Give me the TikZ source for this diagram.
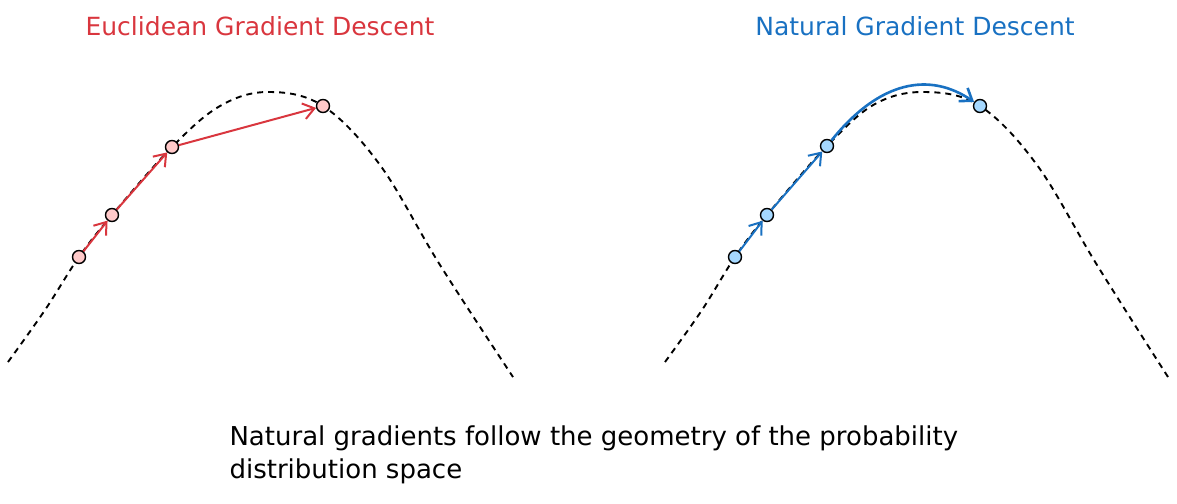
\documentclass[tikz,border=0pt]{standalone}
\usepackage{fontspec}
\setmainfont{DejaVu Sans}
\usetikzlibrary{arrows.meta}
\definecolor{eucred}{HTML}{D9363E}
\definecolor{natblue}{HTML}{1971C2}
\definecolor{pinkfill}{HTML}{FFC9C9}
\definecolor{bluefill}{HTML}{A5D8FF}
\tikzset{
	ridge/.style={black,line width=1.9pt,dash pattern=on 6pt off 5pt},
	dot/.style={circle,draw=black,line width=1.4pt,inner sep=0pt,minimum size=13pt},
	eucstep/.style={eucred,line width=2pt,-{Straight Barb[length=11pt,width=16pt]}},
	natstep/.style={natblue,line width=2pt,-{Straight Barb[length=11pt,width=16pt]}},
}
\begin{document}
\begin{tikzpicture}[x=1pt,y=-1pt]
	\useasboundingbox (0,0) rectangle (1177,503);

	%Titles
	\node[eucred,font=\fontsize{25}{30}\selectfont] (euctitle) at (260,26) {Euclidean Gradient Descent};
	\node[natblue,font=\fontsize{25}{30}\selectfont] (nattitle) at (915,26) {Natural Gradient Descent};

	%The two ridges
	\draw[ridge] plot[smooth,tension=0.6] coordinates {(8,362) (45,310) (79,257) (112,215) (172,147) (220,106) (268,92) (323,106) (380,165) (440,265) (513,377)};
	\draw[ridge] plot[smooth,tension=0.6] coordinates {(665,362) (702,310) (735,257) (767,215) (827,146) (875,104) (925,92) (980,106) (1037,165) (1097,265) (1168,377)};

	%Euclidean steps
	\node[dot,fill=pinkfill] (e1) at (79,257) {};
	\node[dot,fill=pinkfill] (e2) at (112,215) {};
	\node[dot,fill=pinkfill] (e3) at (172,147) {};
	\node[dot,fill=pinkfill] (e4) at (323,106) {};
	\draw[eucstep] (e1) -- (e2);
	\draw[eucstep] (e2) -- (e3);
	\draw[eucstep] (e3) -- (e4);

	%Natural steps
	\node[dot,fill=bluefill] (n1) at (735,257) {};
	\node[dot,fill=bluefill] (n2) at (767,215) {};
	\node[dot,fill=bluefill] (n3) at (827,146) {};
	\node[dot,fill=bluefill] (n4) at (980,106) {};
	\draw[natstep] (n1) -- (n2);
	\draw[natstep] (n2) -- (n3);
	\draw[natstep,line width=2.6pt] (n3) .. controls (880,80) and (930,72) .. (n4);

	%Caption
	\node[anchor=north west,align=left,font=\fontsize{26}{33}\selectfont] (caption) at (226,422) {Natural gradients follow the geometry of the probability\\distribution space};
\end{tikzpicture}
\end{document}
